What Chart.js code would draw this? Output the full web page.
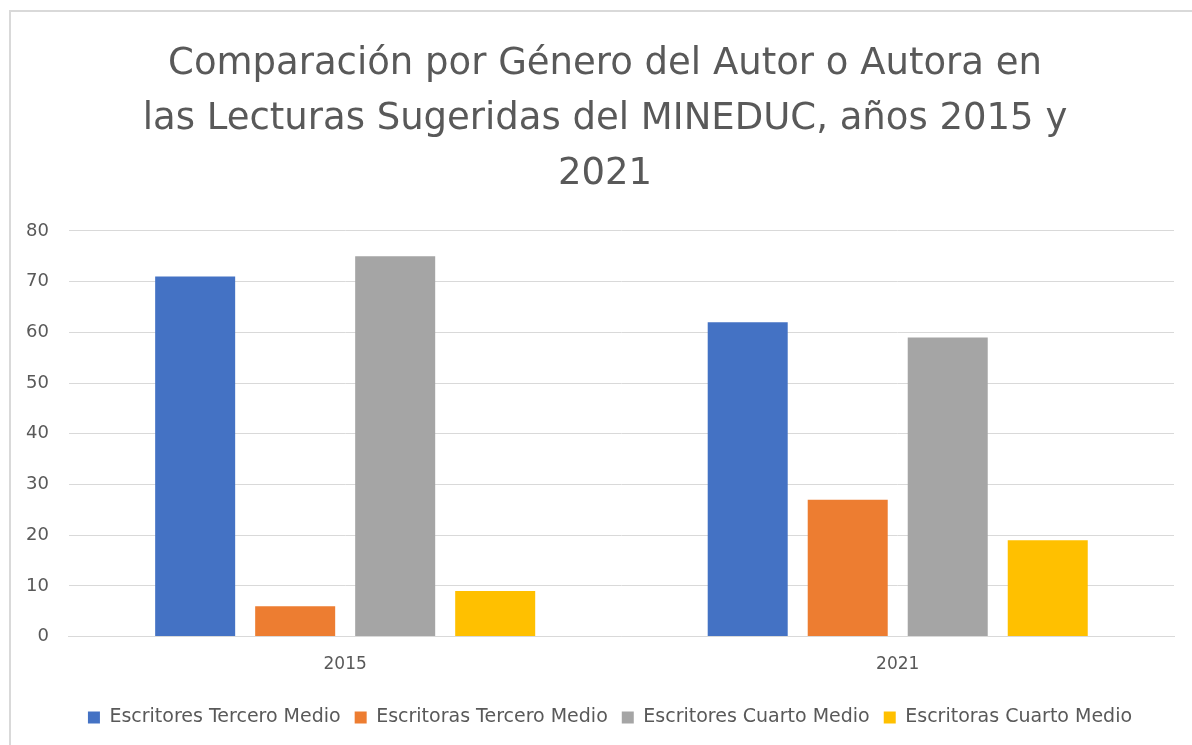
<!DOCTYPE html>
<html>
<head>
<meta charset="utf-8">
<script src="https://cdn.jsdelivr.net/npm/chart.js@4"></script>
<style>
  html, body { margin: 0; padding: 0; background: #fff; }
  #wrap { position: relative; width: 1192px; height: 745px; overflow: hidden; }
  #frame { position: absolute; left: 9px; top: 10px; width: 1200px; height: 760px; border-left: 2px solid #d9d9d9; border-top: 2px solid #d9d9d9; box-sizing: border-box; pointer-events: none; }
  canvas { position: absolute; left: 0; top: 0; }
</style>
</head>
<body>
<div id="wrap">
  <canvas id="c" width="1192" height="745"></canvas>
  <div id="frame"></div>
</div>
<script>
const categories = ["2015", "2021"];
const seriesNames = ["Escritores Tercero Medio", "Escritoras Tercero Medio", "Escritores Cuarto Medio", "Escritoras Cuarto Medio"];
const escritoresTercero = [71, 62];
const escritorasTercero = [6, 27];
const escritoresCuarto = [75, 59];
const escritorasCuarto = [9, 19];
const colors = ["#4472C4", "#ED7D31", "#A5A5A5", "#FFC000"];
const titleLines = ["Comparación por Género del Autor o Autora en", "las Lecturas Sugeridas del MINEDUC, años 2015 y", "2021"];

const seriesValues = [escritoresTercero, escritorasTercero, escritoresCuarto, escritorasCuarto];

// Shift title and legend blocks slightly right (the reference centres them on the frame, not the canvas)
const shiftBlocks = {
  id: "shiftBlocks",
  afterLayout(chart) {
    if (chart.titleBlock) { chart.titleBlock.left += 15; chart.titleBlock.right += 15; }
    if (chart.legend) { chart.legend.left += 20; chart.legend.right += 20; }
  }
};

new Chart(document.getElementById("c"), {
  type: "bar",
  data: {
    labels: categories,
    datasets: seriesNames.map((name, i) => ({
      label: name,
      data: seriesValues[i],
      backgroundColor: colors[i],
      borderWidth: 0
    }))
  },
  plugins: [shiftBlocks],
  options: {
    responsive: false,
    animation: false,
    layout: { padding: { left: 6, right: 18, top: 6, bottom: 8 } },
    datasets: { bar: { categoryPercentage: 0.724, barPercentage: 0.8 } },
    plugins: {
      title: {
        display: true,
        text: titleLines,
        color: "#595959",
        font: { family: "DejaVu Sans", size: 37, weight: "normal", lineHeight: 1.486 },
        padding: { top: 31, bottom: 29 }
      },
      legend: {
        position: "bottom",
        labels: {
          color: "#595959",
          font: { family: "DejaVu Sans", size: 19 },
          boxWidth: 12,
          boxHeight: 12,
          padding: 14
        }
      },
      tooltip: { enabled: false }
    },
    scales: {
      x: {
        grid: { display: false },
        border: { display: true, color: "#d9d9d9", width: 1 },
        ticks: { color: "#595959", font: { family: "DejaVu Sans", size: 17 }, padding: 10 },
        afterFit: (scale) => { scale.height += 9; }
      },
      y: {
        min: 0, max: 80,
        ticks: { stepSize: 10, color: "#595959", font: { family: "DejaVu Sans", size: 18 }, padding: 20 },
        grid: { color: "#d9d9d9", lineWidth: 1, drawTicks: false },
        border: { display: false }
      }
    }
  }
});
</script>
</body>
</html>
